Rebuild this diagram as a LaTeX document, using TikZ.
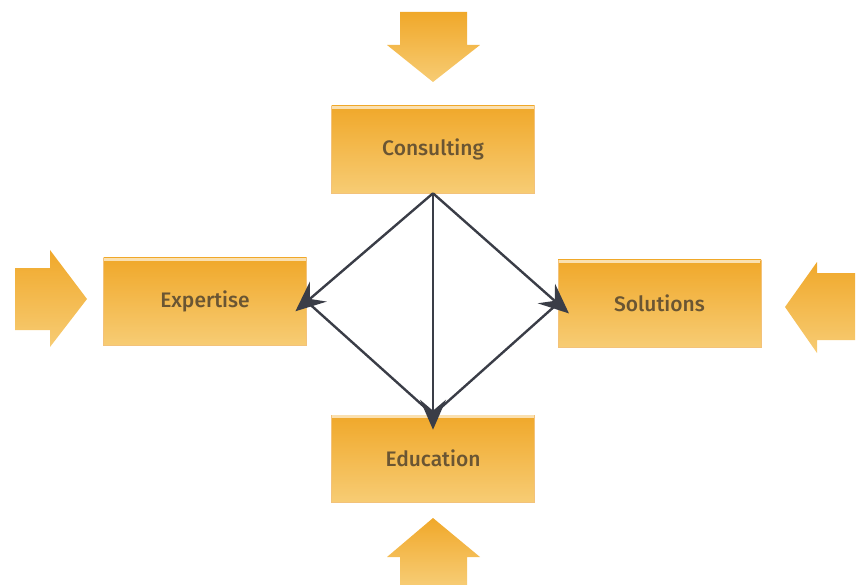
\documentclass[tikz,border=0pt]{standalone}
\usepackage{fontspec}
\setmainfont{Fira Sans Medium}
\usetikzlibrary{arrows.meta}

\definecolor{boxtop}{HTML}{F0A82A}
\definecolor{boxbot}{HTML}{F7CC74}
\definecolor{boxedge}{HTML}{F3C27A}
\definecolor{boxtext}{HTML}{6A5533}
\definecolor{linkcol}{HTML}{3A3D47}
\definecolor{shine}{HTML}{FAE0B0}

\begin{document}
\begin{tikzpicture}[x=1pt,y=-1pt,
  block/.style={rectangle, minimum width=203pt, minimum height=87pt,
    top color=boxtop, bottom color=boxbot, draw=boxedge, line width=0.6pt,
    text=boxtext, font=\fontsize{21}{23}\selectfont},
  fat/.style={top color=boxtop, bottom color=boxbot},
  link/.style={draw=linkcol, line width=2.4pt, line join=round},
  headed/.style={-{Stealth[length=30pt,width=26pt,inset=11pt]},
    shorten >=-15pt}]
  \useasboundingbox (0,0) rectangle (864,585);

  \shade[fat] (400,12) -- (467,12) -- (467,45) -- (480,45) -- (433,82)
  -- (387,45) -- (400,45) -- cycle; \shade[fat] (400,585) -- (467,585)
  -- (467,557) -- (480,557) -- (433,518) -- (387,557) -- (400,557) --
  cycle;

  \shade[fat] (15,268) -- (50,268) -- (50,250) -- (87,299) -- (50,347)
  -- (50,330) -- (15,330) -- cycle; \shade[fat] (855,273) -- (817,273)
  -- (817,262) -- (785,307) -- (817,353) -- (817,340) -- (855,340) --
  cycle;

  \node[block] (consulting) at (433,149.5) {Consulting};
  \node[block] (expertise) at (205,301.5) {Expertise};
  \node[block] (solutions) at (659.5,303.5) {Solutions};
  \node[block] (education) at (433,458.5) {Education};

  \foreach \b in {consulting,expertise,solutions,education}
    \draw[shine, line width=2.5pt] ([shift={(1,2)}]\b.north west) --
    ([shift={(-1,2)}]\b.north east);

  \draw[link] (expertise.east) -- (education.north) -- (solutions.west);
  \draw[link,headed] (consulting.south) -- (expertise.east);
  \draw[link,headed] (consulting.south) -- (solutions.west);
  \draw[link,headed] (consulting.south) -- (education.north);
\end{tikzpicture}
\end{document}
